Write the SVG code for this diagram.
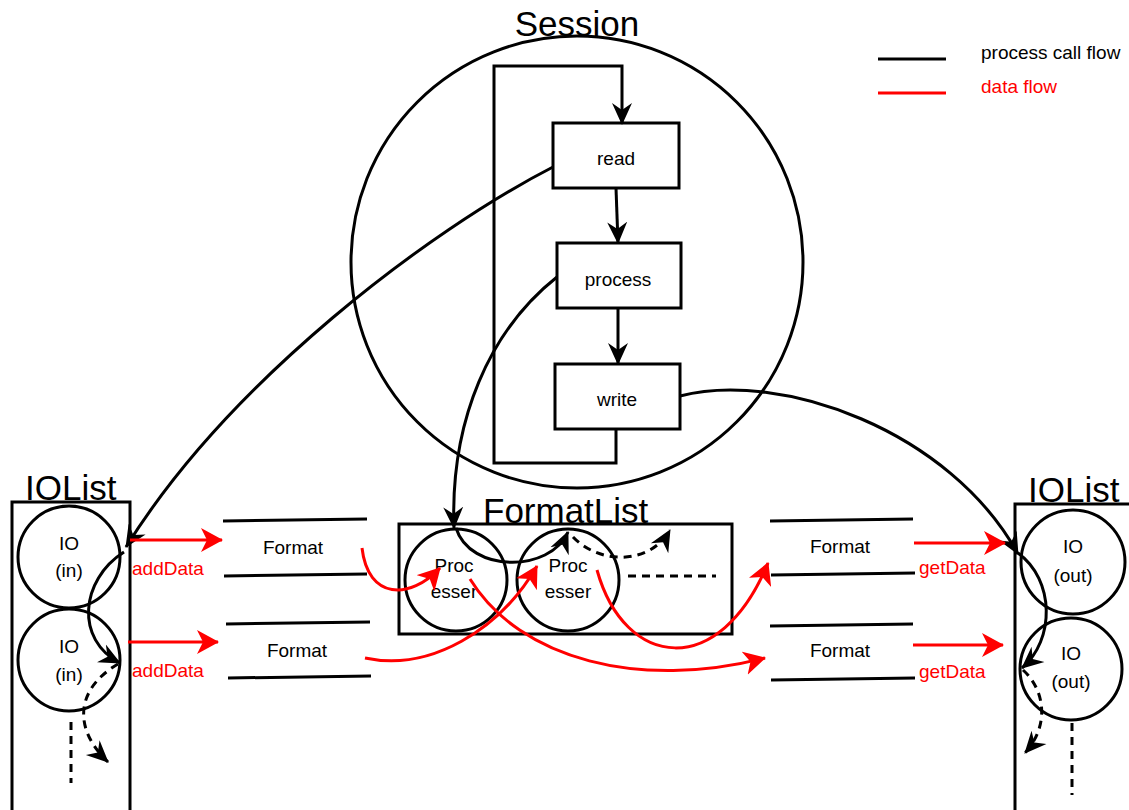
<svg xmlns="http://www.w3.org/2000/svg" width="1129" height="810" viewBox="0 0 1129 810">
  <style>
    .ln { fill: none; stroke: #000; stroke-width: 3; }
    .red { fill: none; stroke: #ff0000; stroke-width: 3; }
    .dash { fill: none; stroke: #000; stroke-width: 3; stroke-dasharray: 8 6; }
    .box { fill: #fff; stroke: #000; stroke-width: 3; }
    .t { font-family: "Liberation Sans", Arial, sans-serif; font-size: 19px; fill: #000; }
    .tr { font-family: "Liberation Sans", Arial, sans-serif; font-size: 19px; fill: #ff0000; }
    .title { font-family: "Liberation Sans", Arial, sans-serif; font-size: 35px; fill: #000; }
    .c { text-anchor: middle; }
  </style>
  <defs>
    <marker id="ab" viewBox="0 0 22 22" refX="21" refY="11" markerWidth="22" markerHeight="22" markerUnits="userSpaceOnUse" orient="auto">
      <path d="M0,1 L22,11 L0,21 L7,11 z" fill="#000"/>
    </marker>
    <marker id="ar" viewBox="0 0 22 24" refX="21" refY="12" markerWidth="22" markerHeight="24" markerUnits="userSpaceOnUse" orient="auto">
      <path d="M0,0 L22,12 L0,24 L6,12 z" fill="#ff0000"/>
    </marker>
  </defs>

  <!-- legend -->
  <g id="legend">
    <line class="ln" x1="878" y1="59" x2="946" y2="59"/>
    <line class="red" x1="878" y1="93" x2="946" y2="93"/>
    <text class="t" x="981" y="59">process call flow</text>
    <text class="tr" x="981" y="93">data flow</text>
  </g>

  <!-- session -->
  <g id="session">
    <circle class="ln" cx="577" cy="262" r="226"/>
    <text class="title c" x="577" y="36">Session</text>
  </g>

  <g id="read">
    <rect class="box" x="553" y="123" width="126" height="65"/>
    <text class="t c" x="616" y="165">read</text>
  </g>
  <g id="process">
    <rect class="box" x="557" y="243" width="124" height="65"/>
    <text class="t c" x="618" y="286">process</text>
  </g>
  <g id="write">
    <rect class="box" x="555" y="364" width="125" height="65"/>
    <text class="t c" x="617" y="406">write</text>
  </g>

  <!-- input IO list -->
  <g id="iolist-in">
    <rect class="ln" x="12" y="502" width="118" height="320"/>
    <text class="title" x="25" y="500">IOList</text>
  </g>
  <g id="io-in-1">
    <circle class="ln" cx="69" cy="557" r="51"/>
    <text class="t c" x="69" y="550">IO</text>
    <text class="t c" x="69" y="577">(in)</text>
  </g>
  <g id="io-in-2">
    <circle class="ln" cx="69" cy="660" r="51"/>
    <text class="t c" x="69" y="653">IO</text>
    <text class="t c" x="69" y="681">(in)</text>
  </g>

  <!-- formats (input side) -->
  <g id="format-in-1">
    <line class="ln" x1="223" y1="521" x2="367" y2="519"/>
    <line class="ln" x1="224" y1="576" x2="367" y2="574"/>
    <text class="t c" x="293" y="554">Format</text>
  </g>
  <g id="format-in-2">
    <line class="ln" x1="226" y1="624" x2="370" y2="622"/>
    <line class="ln" x1="228" y1="678" x2="371" y2="676"/>
    <text class="t c" x="297" y="657">Format</text>
  </g>

  <!-- format list with processers -->
  <g id="formatlist">
    <rect class="ln" x="399" y="524" width="333" height="110"/>
    <text class="title" x="483" y="523">FormatList</text>
  </g>
  <g id="processer-1">
    <circle class="ln" cx="456" cy="580" r="51"/>
    <text class="t c" x="454" y="572">Proc</text>
    <text class="t c" x="454" y="598">esser</text>
  </g>
  <g id="processer-2">
    <circle class="ln" cx="568" cy="580" r="51"/>
    <text class="t c" x="568" y="572">Proc</text>
    <text class="t c" x="568" y="598">esser</text>
  </g>

  <!-- formats (output side) -->
  <g id="format-out-1">
    <line class="ln" x1="770" y1="521" x2="913" y2="519"/>
    <line class="ln" x1="771" y1="575" x2="915" y2="573"/>
    <text class="t c" x="840" y="553">Format</text>
  </g>
  <g id="format-out-2">
    <line class="ln" x1="770" y1="626" x2="913" y2="624"/>
    <line class="ln" x1="771" y1="680" x2="915" y2="678"/>
    <text class="t c" x="840" y="657">Format</text>
  </g>

  <!-- output IO list -->
  <g id="iolist-out">
    <rect class="ln" x="1015" y="504" width="130" height="320"/>
    <text class="title" x="1028" y="502">IOList</text>
  </g>
  <g id="io-out-1">
    <circle class="ln" cx="1073" cy="562" r="52"/>
    <text class="t c" x="1073" y="553">IO</text>
    <text class="t c" x="1073" y="582">(out)</text>
  </g>
  <g id="io-out-2">
    <circle class="ln" cx="1071" cy="669" r="51"/>
    <text class="t c" x="1071" y="660">IO</text>
    <text class="t c" x="1071" y="688">(out)</text>
  </g>

  <!-- connectors -->
  <g id="connectors">
    <!-- call flow -->
    <path class="ln" d="M616,429 L616,463 L494,463 L494,66 L622,66 L622,124" marker-end="url(#ab)"/>
    <path class="ln" d="M616,188 L618,243" marker-end="url(#ab)"/>
    <path class="ln" d="M618,308 L618,364" marker-end="url(#ab)"/>
    <path class="ln" d="M553,167 C430,230 230,380 126,547" marker-end="url(#ab)"/>
    <path class="ln" d="M124,552 C80,580 75,640 120,663" marker-end="url(#ab)"/>
    <path class="ln" d="M557,277 C490,330 450,420 454,528" marker-end="url(#ab)"/>
    <path class="ln" d="M456,528 C470,573 550,573 568,532" marker-end="url(#ab)"/>
    <path class="ln" d="M680,396 C780,370 950,430 1018,554" marker-end="url(#ab)"/>
    <path class="ln" d="M1018,553 C1055,580 1055,640 1022,668" marker-end="url(#ab)"/>
    <path class="dash" d="M118,664 C74,690 74,730 108,762" marker-end="url(#ab)"/>
    <line class="dash" x1="71" y1="722" x2="71" y2="783"/>
    <path class="dash" d="M573,537 C600,565 650,565 670,530" marker-end="url(#ab)"/>
    <line class="dash" x1="628" y1="576" x2="716" y2="576"/>
    <path class="dash" d="M1023,670 C1045,690 1050,725 1025,753" marker-end="url(#ab)"/>
    <line class="dash" x1="1072" y1="723" x2="1072" y2="795"/>

    <!-- data flow -->
    <path class="red" d="M130,540 L222,540" marker-end="url(#ar)"/>
    <path class="red" d="M128,642 L218,642" marker-end="url(#ar)"/>
    <path class="red" d="M362,548 C368,600 410,600 440,568" marker-end="url(#ar)"/>
    <path class="red" d="M365,658 C430,672 500,630 537,566" marker-end="url(#ar)"/>
    <path class="red" d="M470,579 C520,660 640,690 765,658" marker-end="url(#ar)"/>
    <path class="red" d="M597,570 C625,670 720,680 768,563" marker-end="url(#ar)"/>
    <path class="red" d="M914,543 L1005,543" marker-end="url(#ar)"/>
    <path class="red" d="M913,645 L1003,645" marker-end="url(#ar)"/>
    <text class="tr" x="132" y="575">addData</text>
    <text class="tr" x="132" y="677">addData</text>
    <text class="tr" x="919" y="574">getData</text>
    <text class="tr" x="919" y="678">getData</text>
  </g>
</svg>
